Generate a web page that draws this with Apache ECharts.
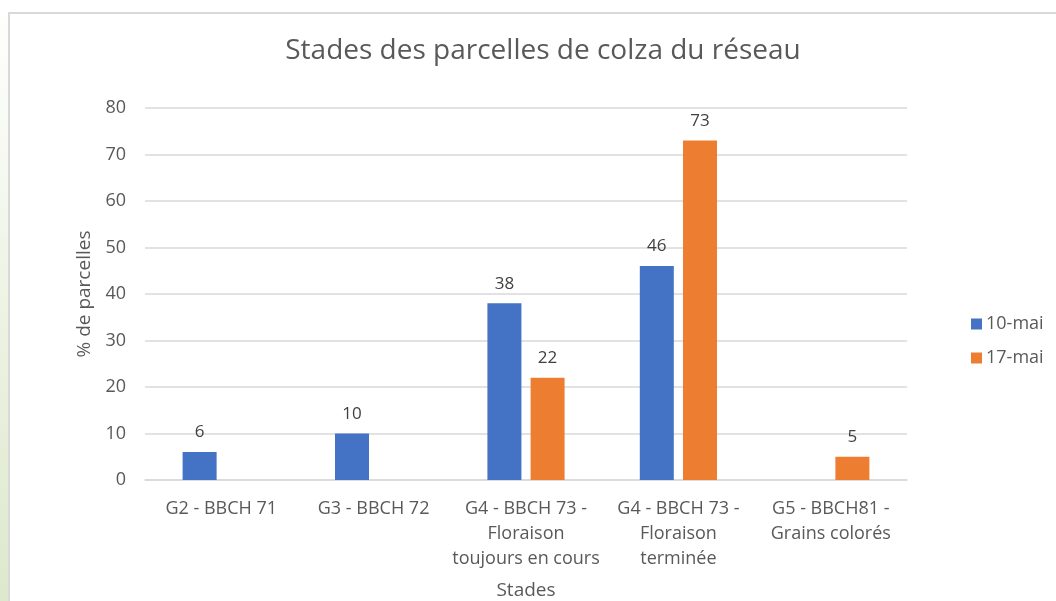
<!DOCTYPE html>
<html>
<head>
<meta charset="utf-8">
<script src="https://cdn.jsdelivr.net/npm/echarts@6/dist/echarts.min.js"></script>
<style>
  html, body { margin: 0; padding: 0; background: #fff; }
  #main { width: 1056px; height: 601px; }
</style>
</head>
<body>
<div id="main"></div>
<script>
var categories = [
    'G2 - BBCH 71',
    'G3 - BBCH 72',
    'G4 - BBCH 73 -\nFloraison\ntoujours en cours',
    'G4 - BBCH 73 -\nFloraison\nterminée',
    'G5 - BBCH81 -\nGrains colorés'
];
var seriesNames = ['10-mai', '17-mai'];
var mai10 = [6, 10, 38, 46, '-'];
var mai17 = ['-', '-', 22, 73, 5];
var yTicks = { min: 0, max: 80, interval: 10 };

var font = 'Open Sans';
var chart = echarts.init(document.getElementById('main'));

function barLabel() {
    return {
        show: true,
        position: 'top',
        distance: 11,
        color: '#404040',
        fontSize: 17,
        fontFamily: font
    };
}

var option = {
    backgroundColor: '#fff',
    animation: false,
    graphic: [{
        type: 'rect',
        left: 0, top: 0,
        shape: { width: 8, height: 601 },
        style: {
            fill: new echarts.graphic.LinearGradient(0, 0, 0, 1, [
                { offset: 0, color: '#ffffff' },
                { offset: 0.5, color: '#eef3e4' },
                { offset: 1, color: '#dde8cc' }
            ])
        },
        silent: true
    }, {
        type: 'polyline',
        shape: { points: [[9, 601], [9, 13], [1056, 13]] },
        style: { stroke: '#d9d9d9', lineWidth: 2, fill: null },
        silent: true
    }],
    title: {
        text: 'Stades des parcelles de colza du réseau',
        left: 538,
        textAlign: 'center',
        top: 32,
        textStyle: { color: '#595959', fontSize: 28, fontWeight: 'normal', fontFamily: font }
    },
    legend: {
        data: seriesNames,
        orient: 'vertical',
        left: 966,
        top: 310,
        itemWidth: 11,
        itemHeight: 11,
        itemGap: 16,
        icon: 'rect',
        textStyle: { color: '#595959', fontSize: 18, fontFamily: font, padding: [0, 0, 0, -1] }
    },
    grid: { left: 145, right: 149, top: 108, bottom: 121, containLabel: false, outerBoundsMode: 'none' },
    xAxis: {
        type: 'category',
        data: categories,
        name: 'Stades',
        nameLocation: 'middle',
        nameGap: 101,
        nameTextStyle: { color: '#595959', fontSize: 19, fontFamily: font },
        axisLine: { show: true, lineStyle: { color: '#d9d9d9', width: 1.5 } },
        axisTick: { show: false },
        axisLabel: {
            color: '#595959', fontSize: 18, fontFamily: font,
            lineHeight: 25, margin: 16, interval: 0
        }
    },
    yAxis: {
        type: 'value',
        min: yTicks.min,
        max: yTicks.max,
        interval: yTicks.interval,
        name: '% de parcelles',
        nameLocation: 'middle',
        nameRotate: 90,
        nameGap: 51,
        nameTextStyle: { color: '#595959', fontSize: 19, fontFamily: font },
        axisLine: { show: false },
        axisTick: { show: false },
        axisLabel: { color: '#595959', fontSize: 18, fontFamily: font, margin: 19 },
        splitLine: { lineStyle: { color: '#d9d9d9', width: 1.5 } }
    },
    series: [{
        name: seriesNames[0],
        type: 'bar',
        data: mai10,
        barWidth: 34,
        barGap: '27%',
        itemStyle: { color: '#4472c4' },
        label: barLabel()
    }, {
        name: seriesNames[1],
        type: 'bar',
        data: mai17,
        barWidth: 34,
        barGap: '27%',
        itemStyle: { color: '#ed7d31' },
        label: barLabel()
    }]
};
chart.setOption(option);
</script>
</body>
</html>
